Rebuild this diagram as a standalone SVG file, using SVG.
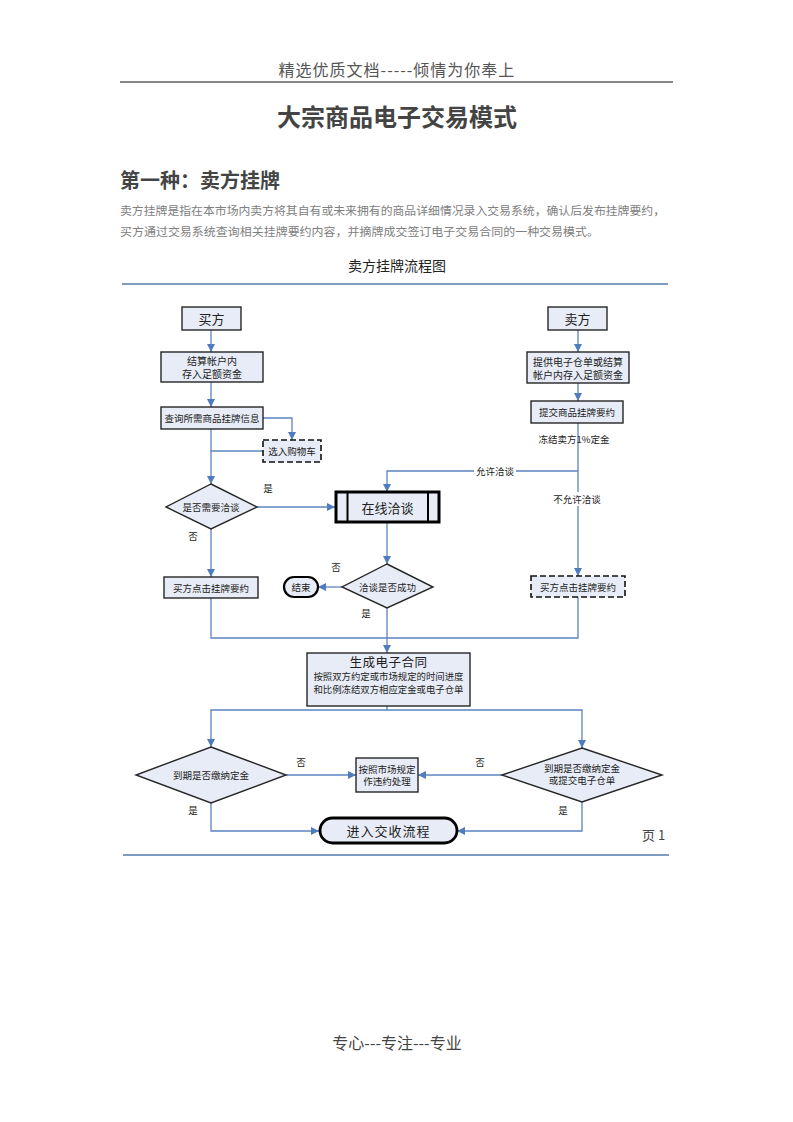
<svg xmlns="http://www.w3.org/2000/svg" width="793" height="1122" viewBox="0 0 793 1122">
<style>
.cjk{font-family:"Noto Sans CJK SC","Noto Sans",sans-serif}
.box{fill:#E7ECF6;stroke:#262626;stroke-width:1.4}
.dash{fill:#E7ECF6;stroke:#111;stroke-width:1.6;stroke-dasharray:6,3}
.thick{fill:#E7ECF6;stroke:#000;stroke-width:3}
.t{font-family:"Noto Sans CJK SC","Noto Sans",sans-serif;fill:#222;text-anchor:middle;dominant-baseline:central}
.lbl{font-family:"Noto Sans CJK SC","Noto Sans",sans-serif;fill:#222;text-anchor:middle;dominant-baseline:central;font-size:9.5px}
.con{fill:none;stroke:#5B84C0;stroke-width:1.3}
.conA{fill:none;stroke:#5B84C0;stroke-width:1.3;marker-end:url(#arr)}
</style>
<defs>
<marker id="arr" markerUnits="userSpaceOnUse" markerWidth="8" markerHeight="8" viewBox="0 0 8 8" refX="8" refY="4" orient="auto">
<path d="M0,0 L8,4 L0,8 Z" fill="#4F7CBD"/>
</marker>
</defs>
<rect width="793" height="1122" fill="#fff"/>
<g id="page-header">
<text x="397" y="76" class="cjk" font-size="16" fill="#555" text-anchor="middle" letter-spacing="1">精选优质文档-----倾情为你奉上</text>
<line x1="120" y1="82" x2="673" y2="82" stroke="#111" stroke-width="1"/>
<text x="397" y="126" class="cjk" font-size="24" font-weight="bold" fill="#444" text-anchor="middle">大宗商品电子交易模式</text>
<text x="120" y="188" class="cjk" font-size="20" font-weight="bold" fill="#444">第一种：卖方挂牌</text>
<text x="120" y="215" class="cjk" font-size="11.8" fill="#808080" textLength="545" lengthAdjust="spacingAndGlyphs">卖方挂牌是指在本市场内卖方将其自有或未来拥有的商品详细情况录入交易系统，确认后发布挂牌要约，</text>
<text x="120" y="236" class="cjk" font-size="11.8" fill="#808080" textLength="479" lengthAdjust="spacingAndGlyphs">买方通过交易系统查询相关挂牌要约内容，并摘牌成交签订电子交易合同的一种交易模式。</text>
<text x="397" y="271" class="cjk" font-size="14" fill="#222" text-anchor="middle">卖方挂牌流程图</text>
<line x1="122" y1="284" x2="668" y2="284" stroke="#7C9CC2" stroke-width="2"/>
<line x1="123" y1="855" x2="669" y2="855" stroke="#7C9CC2" stroke-width="2"/>
<text x="642" y="840" class="cjk" font-size="13" fill="#444">页 1</text>
<text x="397" y="1049" class="cjk" font-size="16" fill="#444" text-anchor="middle">专心---专注---专业</text>
</g>
<g id="connectors">
<path class="conA" d="M211,330 V352"/>
<path class="conA" d="M211,382 V407"/>
<path class="conA" d="M263,418 H292 V440"/>
<path class="con" d="M263,451 H211"/>
<path class="conA" d="M211,429 V484"/>
<path class="conA" d="M257,507 H335"/>
<path class="conA" d="M211,529 V577"/>
<path class="conA" d="M578,330 V352"/>
<path class="conA" d="M578,383 V401"/>
<path class="conA" d="M578,423 V576"/>
<path class="conA" d="M578,471 H387 V492"/>
<path class="conA" d="M387,522 V564"/>
<path class="conA" d="M342,587 H318"/>
<path class="conA" d="M387,608 V653"/>
<path class="con" d="M211,598 V638 H387"/>
<path class="con" d="M578,597 V638 H387"/>
<path class="conA" d="M387,706 V710 H211 V747"/>
<path class="conA" d="M387,710 H582 V748"/>
<path class="conA" d="M286,775 H356"/>
<path class="conA" d="M502,775 H418"/>
<path class="conA" d="M211,803 V831 H319"/>
<path class="conA" d="M582,802 V831 H457"/>
<rect x="474" y="464" width="42" height="14" fill="#fff"/>
<text class="lbl" x="495" y="471">允许洽谈</text>
<rect x="552" y="492" width="50" height="14" fill="#fff"/>
<text class="lbl" x="577" y="499">不允许洽谈</text>
<text class="lbl" x="574" y="439">冻结卖方1%定金</text>
<text class="lbl" x="268" y="488">是</text>
<text class="lbl" x="193" y="536">否</text>
<text class="lbl" x="336" y="567">否</text>
<text class="lbl" x="366" y="613">是</text>
<text class="lbl" x="301" y="762">否</text>
<text class="lbl" x="480" y="762">否</text>
<text class="lbl" x="193" y="810">是</text>
<text class="lbl" x="563" y="810">是</text>
</g>
<g id="buyer">
<rect class="box" x="182" y="307" width="59" height="23"/>
<text class="t" x="211.5" y="318.5" font-size="13">买方</text>
</g>
<g id="buyer-deposit">
<rect class="box" x="161" y="352" width="102" height="30"/>
<text class="t" x="212" y="360.5" font-size="10">结算帐户内</text>
<text class="t" x="212" y="373.5" font-size="10">存入足额资金</text>
</g>
<g id="query">
<rect class="box" x="161" y="407" width="102" height="22"/>
<text class="t" x="212" y="418" font-size="9.5">查询所需商品挂牌信息</text>
</g>
<g id="cart">
<rect class="dash" x="263" y="440" width="58" height="22"/>
<text class="t" x="292" y="451" font-size="9.5">选入购物车</text>
</g>
<g id="need-negotiate">
<polygon class="box" points="211,484 257,507 211,529 166,507"/>
<text class="t" x="211" y="507" font-size="9.5">是否需要洽谈</text>
</g>
<g id="buyer-pick-left">
<rect class="box" x="164" y="577" width="94" height="21"/>
<text class="t" x="211" y="587.5" font-size="9.5">买方点击挂牌要约</text>
</g>
<g id="seller">
<rect class="box" x="548" y="307" width="59" height="23"/>
<text class="t" x="577.5" y="318.5" font-size="13">卖方</text>
</g>
<g id="seller-deposit">
<rect class="box" x="527" y="352" width="102" height="31"/>
<text class="t" x="578" y="361" font-size="10">提供电子仓单或结算</text>
<text class="t" x="578" y="374" font-size="10">帐户内存入足额资金</text>
</g>
<g id="submit">
<rect class="box" x="531" y="401" width="92" height="22"/>
<text class="t" x="577" y="412" font-size="9.5">提交商品挂牌要约</text>
</g>
<g id="online">
<rect class="thick" x="336" y="492" width="103" height="30"/>
<line x1="347.5" y1="492" x2="347.5" y2="522" stroke="#000" stroke-width="2"/>
<line x1="428" y1="492" x2="428" y2="522" stroke="#000" stroke-width="2"/>
<text class="t" x="387.5" y="507" font-size="13">在线洽谈</text>
</g>
<g id="success">
<polygon class="box" points="387,564 433,587 387,608 342,587"/>
<text class="t" x="387.5" y="587" font-size="9.5">洽谈是否成功</text>
</g>
<g id="end">
<rect x="284" y="577" width="34" height="20" rx="10" fill="#E7ECF6" stroke="#000" stroke-width="2.2"/>
<text class="t" x="301" y="587" font-size="9.5">结束</text>
</g>
<g id="buyer-pick-right">
<rect class="dash" x="531" y="576" width="94" height="21"/>
<text class="t" x="578" y="586.5" font-size="9.5">买方点击挂牌要约</text>
</g>
<g id="contract">
<rect class="box" x="307" y="653" width="163" height="53"/>
<text class="t" x="388.5" y="661" font-size="12.5" letter-spacing="0.5">生成电子合同</text>
<text class="t" x="388.5" y="676" font-size="9.4">按照双方约定或市场规定的时间进度</text>
<text class="t" x="388.5" y="688.5" font-size="9.4">和比例冻结双方相应定金或电子仓单</text>
</g>
<g id="pay-deposit">
<polygon class="box" points="211,747 286,775 211,803 136,775"/>
<text class="t" x="211" y="775" font-size="9.5">到期是否缴纳定金</text>
</g>
<g id="breach">
<rect class="box" x="356" y="758" width="62" height="34"/>
<text class="t" x="387" y="768.5" font-size="9.5">按照市场规定</text>
<text class="t" x="387" y="781" font-size="9.5">作违约处理</text>
</g>
<g id="pay-or-receipt">
<polygon class="box" points="582,748 662,775 582,802 502,775"/>
<text class="t" x="582" y="767.5" font-size="9.5">到期是否缴纳定金</text>
<text class="t" x="582" y="780" font-size="9.5">或提交电子仓单</text>
</g>
<g id="delivery">
<rect x="320" y="818" width="137" height="25" rx="12.5" fill="#E7ECF6" stroke="#000" stroke-width="2.8"/>
<text class="t" x="388.5" y="830.5" font-size="13" letter-spacing="1">进入交收流程</text>
</g>
</svg>
